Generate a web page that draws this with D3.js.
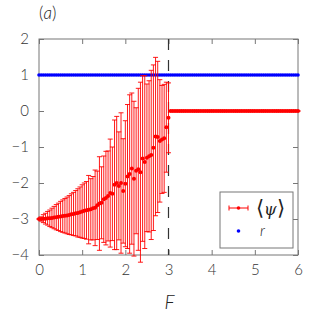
<!DOCTYPE html>
<html>
<head>
<meta charset="utf-8">
<script src="https://cdn.jsdelivr.net/npm/d3@7"></script>
<style>
	body { margin: 0; background: #fff; }
	svg text { font-family: Lato, "DejaVu Sans", sans-serif; }
</style>
</head>
<body>
<div id="chart"></div>
<script>
// F values where psi was sampled (step 0.05)
var fLow = d3.range(0, 61).map(function (i) { return +(i * 0.05).toFixed(2); });
var fHigh = d3.range(61, 121).map(function (i) { return +(i * 0.05).toFixed(2); });
var fAll = fLow.concat(fHigh);

// mean <psi> for F in [0, 3]
var psiMean = [
	-3.00, -3.00, -2.99, -2.99, -2.98, -2.98, -2.97, -2.96, -2.95, -2.94,
	-2.93, -2.92, -2.91, -2.90, -2.89, -2.87, -2.86, -2.84, -2.83, -2.81,
	-2.79, -2.77, -2.76, -2.74, -2.73, -2.70, -2.69, -2.62, -2.57, -2.55,
	-2.45, -2.42, -2.36, -2.28, -2.30, -2.05, -2.00, -2.08, -2.00, -2.22,
	-2.02, -1.82, -1.75, -1.60, -1.88, -1.66, -1.62, -1.70, -1.32, -1.42,
	-1.30, -1.26, -1.22, -1.02, -0.71, -0.72, -0.83, -0.79, -0.76, -0.45,
	-0.19
];
// error (std) of <psi>
var psiErr = [
	0.00, 0.06, 0.11, 0.15, 0.19, 0.23, 0.27, 0.31, 0.35, 0.38,
	0.42, 0.45, 0.48, 0.51, 0.54, 0.57, 0.60, 0.63, 0.67, 0.70,
	0.74, 0.77, 0.80, 0.95, 0.85, 0.88, 1.05, 0.95, 1.30, 1.00,
	1.20, 1.30, 1.25, 1.50, 1.30, 1.80, 1.85, 1.50, 1.95, 1.45,
	1.75, 2.00, 2.20, 2.10, 2.15, 1.75, 2.25, 2.50, 2.30, 2.40,
	2.05, 2.10, 2.35, 2.30, 2.20, 2.10, 1.70, 1.50, 1.50, 1.25,
	0.97
];
// F > 3: psi stays at 0, no spread
var psiHigh = fHigh.map(function () { return 0; });
// r is 1 everywhere
var rVal = fAll.map(function () { return 1; });

var xTicks = [0, 1, 2, 3, 4, 5, 6];
var yTicks = [2, 1, 0, -1, -2, -3, -4];
var fCrit = 3;

// layout
var width = 318, height = 314;
var margin = { left: 39, right: 20, top: 39, bottom: 59 };
var red = '#ff0000', blue = '#0000ff', frame = '#777';

var svg = d3.select('#chart').append('svg')
	.attr('width', width)
	.attr('height', height);

var x = d3.scaleLinear().domain([0, 6]).range([margin.left, width - margin.right]);
var y = d3.scaleLinear().domain([-4, 2]).range([height - margin.bottom, margin.top]);

var minus = function (d) { return d < 0 ? '\u2212' + Math.abs(d) : '' + d; };

// axes with inward ticks on every side
var axisB = d3.axisBottom(x).tickValues(xTicks).tickSize(-5).tickFormat(minus).tickPadding(9);
var axisT = d3.axisTop(x).tickValues(xTicks).tickSize(-5).tickFormat('');
var axisL = d3.axisLeft(y).tickValues(yTicks).tickSize(-5).tickFormat(minus).tickPadding(10);
var axisR = d3.axisRight(y).tickValues(yTicks).tickSize(-5).tickFormat('');

function styleAxis(g) {
	g.select('.domain').remove();
	g.selectAll('line').attr('stroke', frame);
	g.selectAll('text').attr('fill', '#333').style('font-size', '15px').style('font-weight', 300);
}
svg.append('g').attr('transform', 'translate(0,' + y(-4) + ')').call(axisB).call(styleAxis);
svg.append('g').attr('transform', 'translate(0,' + y(2) + ')').call(axisT).call(styleAxis);
svg.append('g').attr('transform', 'translate(' + x(0) + ',0)').call(axisL).call(styleAxis);
svg.append('g').attr('transform', 'translate(' + x(6) + ',0)').call(axisR).call(styleAxis);

// frame
svg.append('rect')
	.attr('x', x(0)).attr('y', y(2))
	.attr('width', x(6) - x(0)).attr('height', y(-4) - y(2))
	.attr('fill', 'none').attr('stroke', frame).attr('stroke-width', 1);

// dashed line at F = 3
svg.append('line')
	.attr('x1', x(fCrit)).attr('x2', x(fCrit))
	.attr('y1', y(2)).attr('y2', y(-4))
	.attr('stroke', '#333').attr('stroke-width', 1.2)
	.attr('stroke-dasharray', '11,10');

// r points
svg.append('g').selectAll('circle')
	.data(fAll)
	.join('circle')
	.attr('cx', function (d) { return x(d); })
	.attr('cy', function (d, i) { return y(rVal[i]); })
	.attr('r', 1.8)
	.attr('fill', blue);

// psi with error bars
var psi = fLow.map(function (f, i) { return { f: f, m: psiMean[i], e: psiErr[i] }; })
	.concat(fHigh.map(function (f, i) { return { f: f, m: psiHigh[i], e: 0 }; }));

var bars = svg.append('g').attr('stroke', red).attr('stroke-width', 0.9);
bars.selectAll('line.bar')
	.data(psi.filter(function (d) { return d.e > 0; }))
	.join('line')
	.attr('class', 'bar')
	.attr('x1', function (d) { return x(d.f); })
	.attr('x2', function (d) { return x(d.f); })
	.attr('y1', function (d) { return y(d.m - d.e); })
	.attr('y2', function (d) { return y(d.m + d.e); });
bars.selectAll('line.capTop')
	.data(psi)
	.join('line')
	.attr('class', 'capTop')
	.attr('x1', function (d) { return x(d.f) - 2.5; })
	.attr('x2', function (d) { return x(d.f) + 2.5; })
	.attr('y1', function (d) { return y(d.m + d.e); })
	.attr('y2', function (d) { return y(d.m + d.e); });
bars.selectAll('line.capBot')
	.data(psi)
	.join('line')
	.attr('class', 'capBot')
	.attr('x1', function (d) { return x(d.f) - 2.5; })
	.attr('x2', function (d) { return x(d.f) + 2.5; })
	.attr('y1', function (d) { return y(d.m - d.e); })
	.attr('y2', function (d) { return y(d.m - d.e); });
svg.append('g').selectAll('circle')
	.data(psi)
	.join('circle')
	.attr('cx', function (d) { return x(d.f); })
	.attr('cy', function (d) { return y(d.m); })
	.attr('r', 2)
	.attr('fill', red);

// axis label and panel tag
svg.append('text')
	.attr('x', (x(0) + x(6)) / 2 + 1).attr('y', 309)
	.attr('text-anchor', 'middle')
	.style('font-size', '19px').style('font-style', 'italic').style('font-weight', 300)
	.attr('fill', '#222')
	.text('F');
svg.append('text')
	.attr('x', 39).attr('y', 19)
	.style('font-size', '17px').style('font-weight', 300)
	.attr('fill', '#222')
	.html('(<tspan font-style="italic">a</tspan>)');

// legend
var lg = svg.append('g').attr('transform', 'translate(220,192)');
lg.append('rect').attr('width', 73).attr('height', 56)
	.attr('fill', '#fff').attr('stroke', frame);
lg.append('line').attr('x1', 9).attr('x2', 28).attr('y1', 16).attr('y2', 16)
	.attr('stroke', red).attr('stroke-width', 1);
lg.selectAll('line.cap').data([9, 28]).join('line')
	.attr('class', 'cap')
	.attr('x1', function (d) { return d; }).attr('x2', function (d) { return d; })
	.attr('y1', 13.5).attr('y2', 18.5)
	.attr('stroke', red).attr('stroke-width', 1);
lg.append('circle').attr('cx', 18.5).attr('cy', 16).attr('r', 1.8).attr('fill', red);
lg.append('circle').attr('cx', 18.5).attr('cy', 39).attr('r', 1.8).attr('fill', blue);
lg.append('text').attr('x', 36).attr('y', 23)
	.style('font-size', '21px').style('font-weight', 300).attr('fill', '#222')
	.html('\u27E8<tspan font-style="italic" font-family="DejaVu Serif" font-size="16px">\u03C8</tspan>\u27E9');
lg.append('text').attr('x', 40).attr('y', 44)
	.style('font-size', '15px').style('font-style', 'italic').style('font-weight', 300)
	.attr('fill', '#222')
	.text('r');
</script>
</body>
</html>
